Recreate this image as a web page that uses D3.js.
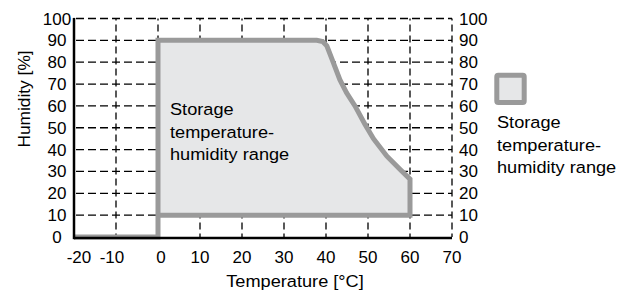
<!DOCTYPE html>
<html>
<head>
<meta charset="utf-8">
<script src="https://cdn.jsdelivr.net/npm/d3@7"></script>
<style>
  html, body { margin: 0; padding: 0; background: #fff; }
  svg { display: block; font-family: "Liberation Sans", Arial, Helvetica, sans-serif; }
</style>
</head>
<body>
<svg id="chart" width="629" height="293"></svg>
<script>
// ---- data ----
const xTickValues = [-20, -10, 0, 10, 20, 30, 40, 50, 60, 70];
const yTickValues = [0, 10, 20, 30, 40, 50, 60, 70, 80, 90, 100];
// boundary of the storage range (temperature °C, humidity %)
const boundaryTemp = [-20, 0, 0, 37.8, 39.2, 40.2, 41.7, 43.3, 44.9, 46.9, 49.3, 51.3, 54.5, 57.6, 60, 60, 0];
const boundaryHum  = [0,   0, 90, 90,  89.5, 87.5, 80,  72,   66,   60,   51.5, 45,   37,   31,   26.5, 10, 10];
const rangeLabel = ["Storage", "temperature-", "humidity range"];
const xTitle = "Temperature [°C]";
const yTitle = "Humidity [%]";

// ---- layout ----
const svg = d3.select("#chart");
const x = d3.scaleLinear().domain([-20, 70]).range([74, 452]);
const y = d3.scaleLinear().domain([0, 100]).range([237, 18.5]);
const fontSize = 17;
const wordStretch = 1.07;
const gray = "#9a9a9a";
const fillGray = "#e6e7e8";

// grid: horizontal dashed lines (10..100)
svg.append("g").selectAll("line")
  .data(yTickValues.filter(v => v > 0))
  .join("line")
  .attr("x1", x(-20)).attr("x2", x(70))
  .attr("y1", d => y(d)).attr("y2", d => y(d))
  .attr("stroke", "#000").attr("stroke-width", 1.3)
  .attr("stroke-dasharray", "8,4").attr("stroke-dashoffset", -2);

// grid: vertical dashed lines (-10..70)
svg.append("g").selectAll("line")
  .data(xTickValues.filter(v => v > -20))
  .join("line")
  .attr("x1", d => x(d)).attr("x2", d => x(d))
  .attr("y1", y(0)).attr("y2", y(100))
  .attr("stroke", "#000").attr("stroke-width", 1.3)
  .attr("stroke-dasharray", "7,4").attr("stroke-dashoffset", 3.5);

// storage range
const pts = boundaryTemp.map((t, i) => [x(t), y(boundaryHum[i])]);
svg.append("path")
  .attr("d", "M" + pts.slice(1).map(p => p.join(",")).join("L") + "Z")
  .attr("fill", fillGray).attr("stroke", "none");
svg.append("path")
  .attr("d", d3.line()(pts))
  .attr("fill", "none").attr("stroke", gray).attr("stroke-width", 5)
  .attr("stroke-linejoin", "miter");

// axes (solid black left + bottom)
svg.append("line")
  .attr("x1", x(-20)).attr("x2", x(70))
  .attr("y1", y(0) + 1).attr("y2", y(0) + 1)
  .attr("stroke", "#000").attr("stroke-width", 2.5);
svg.append("line")
  .attr("x1", x(-20)).attr("x2", x(-20))
  .attr("y1", y(0) + 2.2).attr("y2", y(100) - 0.6)
  .attr("stroke", "#000").attr("stroke-width", 2.5);

// tick labels
const xLabelShift = { "-20": 5, "-10": -4, "0": 3 };
svg.append("g").selectAll("text")
  .data(xTickValues).join("text")
  .attr("x", d => x(d) + (xLabelShift[d] || 0))
  .attr("y", 263)
  .attr("text-anchor", "middle")
  .attr("font-size", fontSize)
  .text(d => d);

svg.append("g").selectAll("text")
  .data(yTickValues).join("text")
  .attr("x", 57)
  .attr("y", d => y(d) + 6)
  .attr("text-anchor", "middle")
  .attr("font-size", fontSize)
  .text(d => d);

svg.append("g").selectAll("text")
  .data(yTickValues).join("text")
  .attr("x", 459)
  .attr("y", d => y(d) + 6)
  .attr("text-anchor", "start")
  .attr("font-size", fontSize)
  .text(d => d);

// axis titles
svg.append("text")
  .attr("transform", `translate(${(x(-20) + x(70)) / 2 + 32},287) scale(${wordStretch},1)`)
  .attr("text-anchor", "middle")
  .attr("font-size", fontSize)
  .text(xTitle);

svg.append("text")
  .attr("transform", "translate(30,99) rotate(-90) scale(1.02,1)")
  .attr("text-anchor", "middle")
  .attr("font-size", fontSize)
  .text(yTitle);

// in-plot label
svg.append("g").selectAll("text")
  .data(rangeLabel).join("text")
  .attr("transform", (d, i) => `translate(170,${115 + i * 22.5}) scale(${wordStretch},1)`)
  .attr("font-size", fontSize)
  .text(d => d);

// legend
svg.append("rect")
  .attr("x", 496.8).attr("y", 75.2)
  .attr("width", 27.4).attr("height", 27.4)
  .attr("rx", 1.5)
  .attr("fill", fillGray).attr("stroke", gray).attr("stroke-width", 5);
svg.append("g").selectAll("text")
  .data(rangeLabel).join("text")
  .attr("transform", (d, i) => `translate(497,${128 + i * 22.7}) scale(${wordStretch},1)`)
  .attr("font-size", fontSize)
  .text(d => d);
</script>
</body>
</html>
